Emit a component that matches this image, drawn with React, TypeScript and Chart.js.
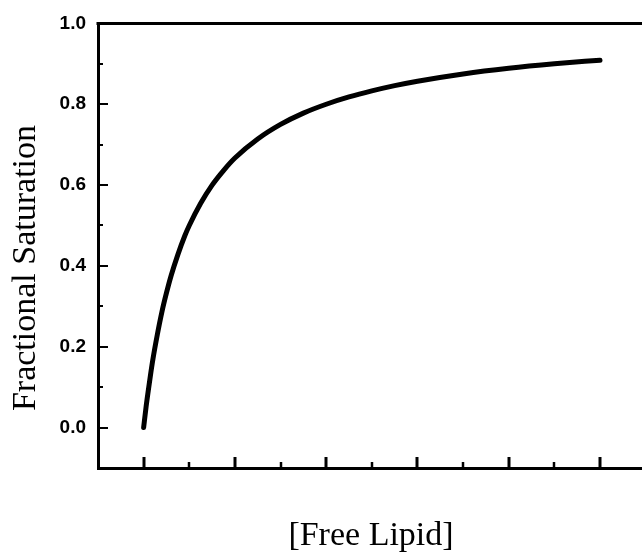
import React, { useEffect, useRef } from "react";
import { Chart, registerables } from "chart.js";

Chart.register(...registerables);

// Data
const freeLipid = [0, 0.05, 0.1, 0.15, 0.2, 0.3, 0.4, 0.5, 0.6, 0.75, 0.9, 1, 1.25, 1.5, 1.75, 2, 2.5, 3, 3.5, 4, 4.5, 5, 5.5, 6, 7, 8, 9, 10];
const fractionalSaturation = [0, 0.048, 0.09, 0.13, 0.167, 0.23, 0.286, 0.333, 0.375, 0.428, 0.474, 0.5, 0.555, 0.6, 0.636, 0.667, 0.714, 0.75, 0.778, 0.8, 0.818, 0.833, 0.846, 0.857, 0.875, 0.889, 0.9, 0.909];

const xMajorTicks = [0, 2, 4, 6, 8, 10];
const xMinorTicks = [1, 3, 5, 7, 9];
const yMajorTicks = [0, 0.2, 0.4, 0.6, 0.8, 1.0];
const yMinorTicks = [0.1, 0.3, 0.5, 0.7, 0.9];

const xTitle = "[Free Lipid]";
const yTitle = "Fractional Saturation";

const framePlugin = {
  id: "frame",
  afterDraw(chart: any) {
    const { ctx, chartArea, scales } = chart;
    const xs = scales.x;
    const ys = scales.y;
    ctx.save();
    ctx.strokeStyle = "#000";
    // top border
    ctx.lineWidth = 3;
    ctx.beginPath();
    ctx.moveTo(chartArea.left - 1.5, chartArea.top);
    ctx.lineTo(chart.width, chartArea.top);
    ctx.stroke();
    // y ticks (inward)
    ctx.lineWidth = 2;
    yMajorTicks.forEach((v) => {
      const py = Math.round(ys.getPixelForValue(v));
      ctx.beginPath();
      ctx.moveTo(chartArea.left, py);
      ctx.lineTo(chartArea.left + 10, py);
      ctx.stroke();
    });
    yMinorTicks.forEach((v) => {
      const py = Math.round(ys.getPixelForValue(v));
      ctx.beginPath();
      ctx.moveTo(chartArea.left, py);
      ctx.lineTo(chartArea.left + 5, py);
      ctx.stroke();
    });
    // x ticks (inward)
    ctx.lineWidth = 3;
    xMajorTicks.forEach((v) => {
      const px = Math.round(xs.getPixelForValue(v));
      ctx.beginPath();
      ctx.moveTo(px, chartArea.bottom);
      ctx.lineTo(px, chartArea.bottom - 11);
      ctx.stroke();
    });
    ctx.lineWidth = 2.5;
    xMinorTicks.forEach((v) => {
      const px = Math.round(xs.getPixelForValue(v));
      ctx.beginPath();
      ctx.moveTo(px, chartArea.bottom);
      ctx.lineTo(px, chartArea.bottom - 6);
      ctx.stroke();
    });
    // titles
    ctx.fillStyle = "#000";
    ctx.font = "34px 'Liberation Serif', 'Times New Roman', serif";
    ctx.textAlign = "center";
    ctx.textBaseline = "alphabetic";
    ctx.fillText(xTitle, 371, 545);
    ctx.save();
    ctx.translate(35, 268);
    ctx.rotate(-Math.PI / 2);
    ctx.fillText(yTitle, 0, 0);
    ctx.restore();
    ctx.restore();
  },
};

export default function App() {
  const canvasRef = useRef<HTMLCanvasElement | null>(null);

  useEffect(() => {
    if (!canvasRef.current) return;
    const points = freeLipid.map((x, i) => ({ x, y: fractionalSaturation[i] }));
    const chart = new Chart(canvasRef.current, {
      type: "line",
      data: {
        datasets: [
          {
            data: points,
            borderColor: "#000",
            borderWidth: 5,
            borderCapStyle: "round",
            borderJoinStyle: "round",
            pointRadius: 0,
            fill: false,
            cubicInterpolationMode: "monotone",
          },
        ],
      },
      options: {
        responsive: false,
        animation: false,
        devicePixelRatio: 1,
        layout: { padding: { top: 22, right: 0, left: 0, bottom: 0 } },
        plugins: {
          legend: { display: false },
          tooltip: { enabled: false },
        },
        scales: {
          x: {
            type: "linear",
            min: -1,
            max: 10.92,
            ticks: { display: false },
            grid: { display: false },
            border: { display: true, color: "#000", width: 3 },
            afterFit(scale: any) {
              scale.height = 86;
            },
          },
          y: {
            type: "linear",
            min: -0.1,
            max: 1.0,
            ticks: {
              stepSize: 0.1,
              padding: 12,
              color: "#000",
              font: { family: "'Liberation Sans', Arial, sans-serif", size: 19, weight: "bold" },
              callback: (value: any) => {
                const v = Math.round(Number(value) * 10);
                if (v < 0 || v % 2 !== 0) return "";
                return (v / 10).toFixed(1);
              },
            },
            grid: { display: false, drawTicks: false },
            border: { display: true, color: "#000", width: 3 },
            afterFit(scale: any) {
              scale.width = 98;
            },
          },
        },
      },
      plugins: [framePlugin],
    } as any);
    return () => chart.destroy();
  }, []);

  return (
    <div style={{ position: "absolute", left: 0, top: 0, width: 642, height: 554, background: "#fff" }}>
      <canvas ref={canvasRef} width={642} height={554} style={{ display: "block" }} />
    </div>
  );
}
